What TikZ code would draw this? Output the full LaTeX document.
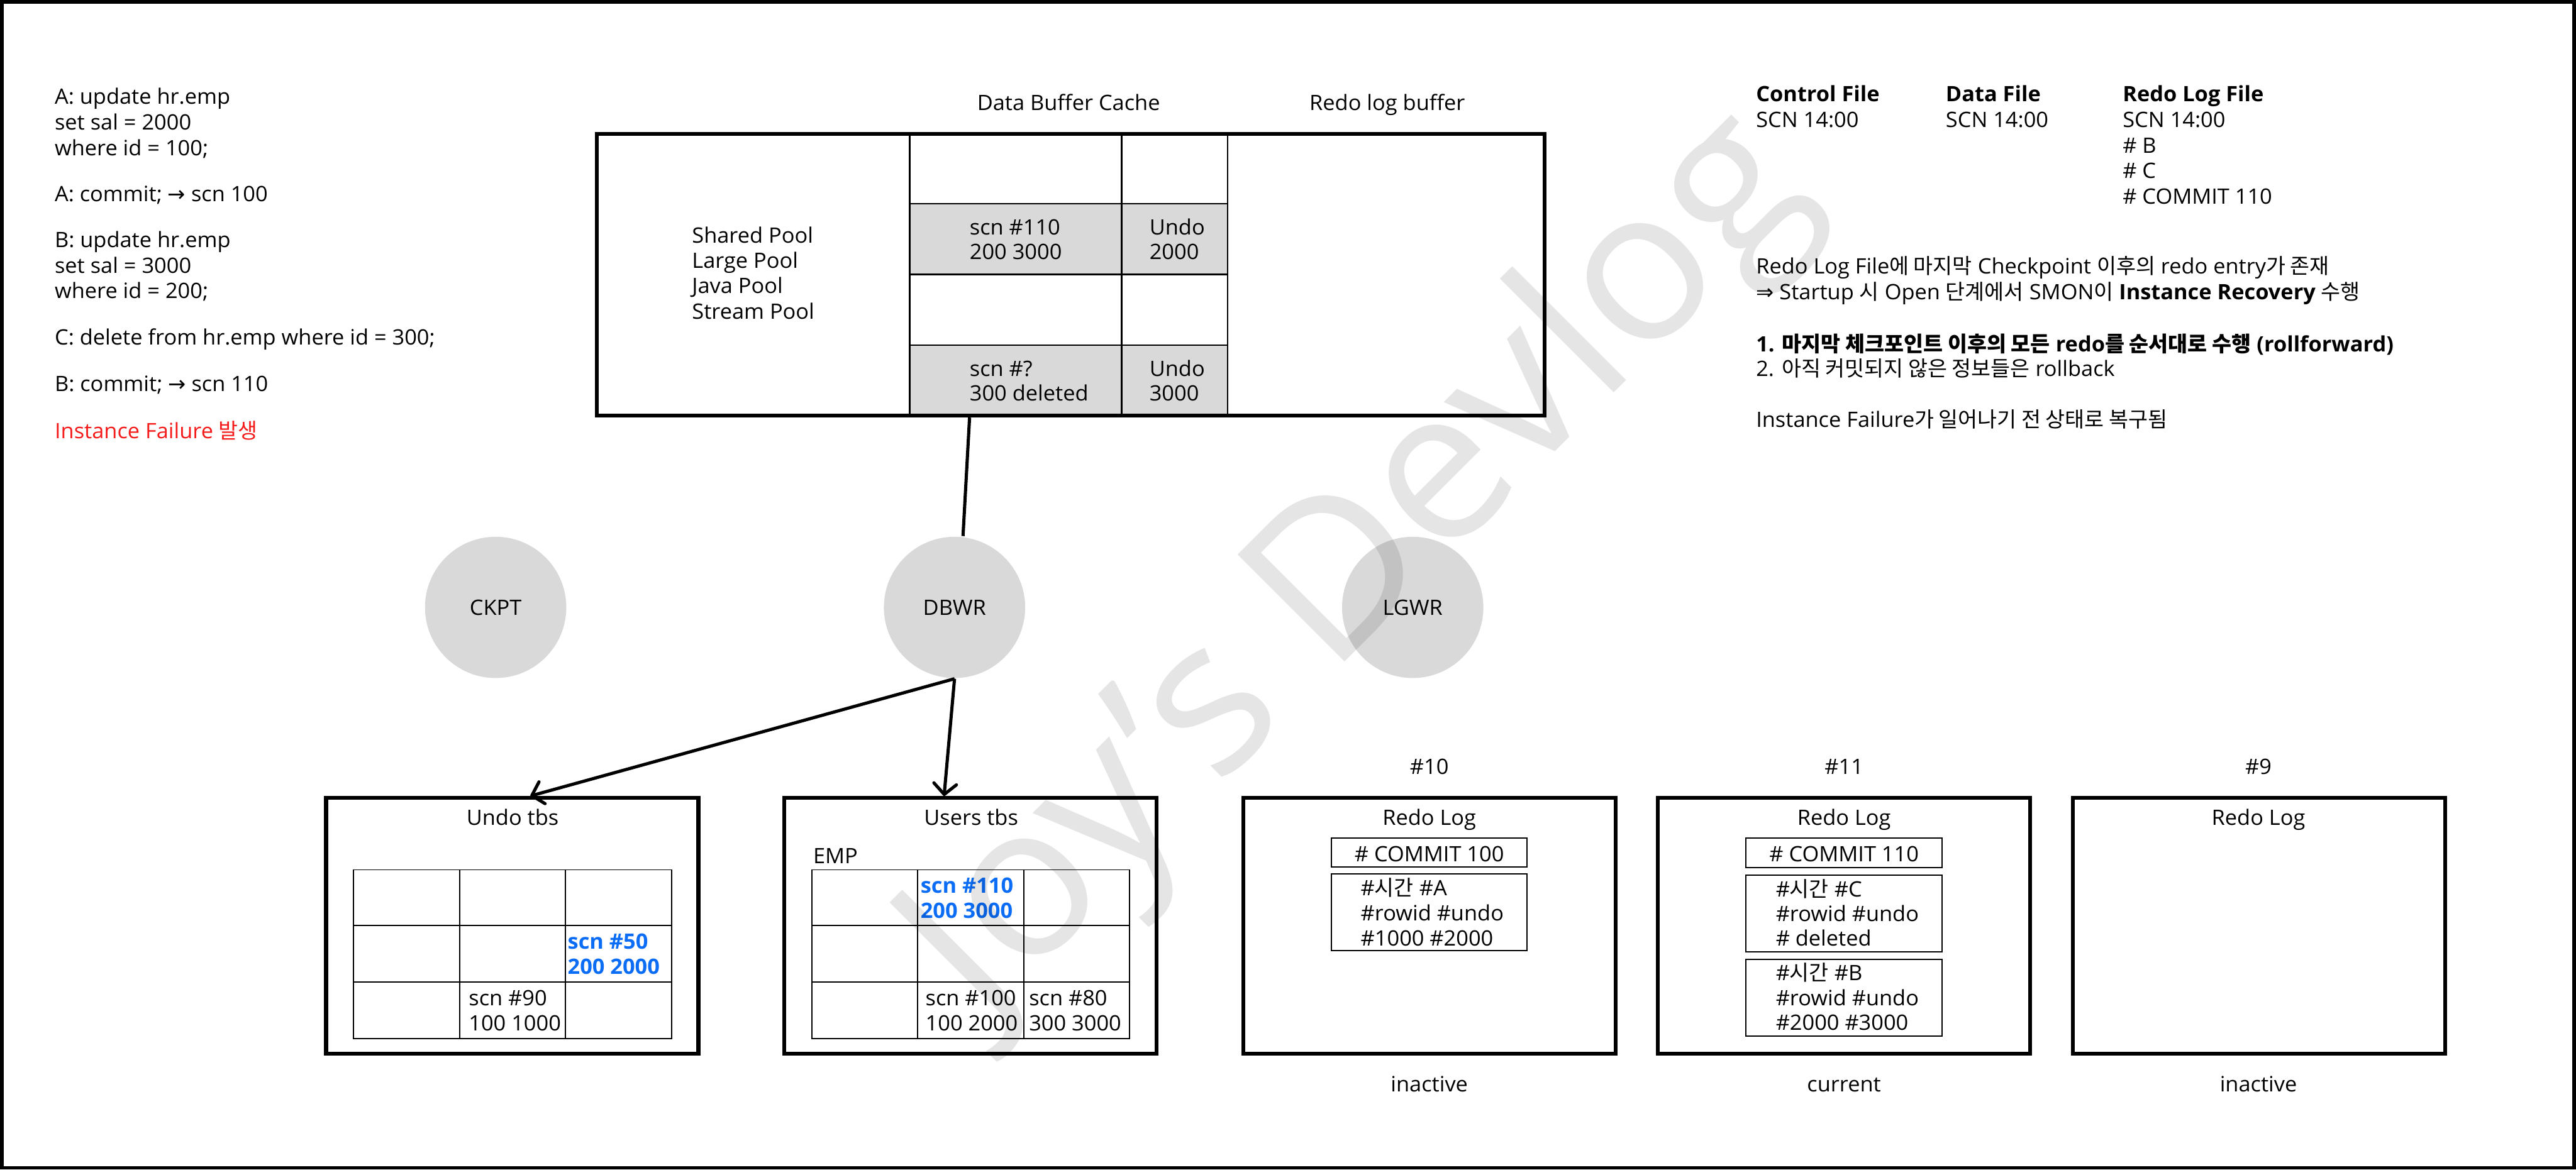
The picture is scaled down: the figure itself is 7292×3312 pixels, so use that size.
\documentclass[tikz,border=0pt]{standalone}
\usepackage{fontspec}
\setmainfont{Open Sans}[FakeStretch=1.02]
\newfontfamily\kr{Noto Sans CJK KR}
\newfontfamily\sym{DejaVu Sans}
\usetikzlibrary{arrows.meta,calc}
\definecolor{cellgray}{HTML}{D9D9D9}
\definecolor{hlblue}{HTML}{0B6CF5}
\definecolor{failred}{HTML}{F51B1B}
\begin{document}
\begin{tikzpicture}[x=0.1pt,y=-0.1pt,
  txt/.style={inner sep=0pt, font=\fontsize{6}{7.2}\selectfont},
  lt/.style={txt, anchor=base west},
  ct/.style={txt, anchor=base},
  bigbox/.style={draw=black, line width=1.1pt, rectangle, inner sep=0pt},
  tbox/.style={bigbox, minimum width=105.4pt, minimum height=72.4pt},
  thinl/.style={draw=black, line width=0.35pt},
  midl/.style={draw=black, line width=0.4pt},
  proc/.style={circle, fill=cellgray, minimum size=40pt, inner sep=0pt, font=\fontsize{6}{7.2}\selectfont},
  conn/.style={draw=black, line width=0.9pt},
  arr/.style={conn, -{Straight Barb[length=3pt,width=6.4pt,round]}},
  bt/.style={lt, font=\fontsize{6}{7.2}\selectfont\bfseries},
  hl/.style={bt, text=hlblue}
]
\useasboundingbox (0,0) rectangle (7292,3312);
\fill[white] (0,0) rectangle (7292,3312);
\draw[line width=1pt] (5,5) rectangle (7287,3307);

% ---------- left statements ----------
\node[lt] (l1) at (153,295) {A: update hr.emp};
\node[lt] (l2) at (153,368) {set sal = 2000};
\node[lt] (l3) at (153,441) {where id = 100;};
\node[lt] (l4) at (153,571) {A: commit; {\sym →} scn 100};
\node[lt] (l5) at (153,701) {B: update hr.emp};
\node[lt] (l6) at (153,774) {set sal = 3000};
\node[lt] (l7) at (153,845) {where id = 200;};
\node[lt] (l8) at (153,976) {C: delete from hr.emp where id = 300;};
\node[lt] (l9) at (153,1108) {B: commit; {\sym →} scn 110};
\node[lt, text=failred] (l10) at (153,1242) {Instance Failure {\kr 발생}};

% ---------- SGA ----------
\node[ct] (hdbc) at (3025,312) {Data Buffer Cache};
\node[ct] (hrlb) at (3927,312) {Redo log buffer};
\fill[cellgray] (2575,577) rectangle (3475,777);
\fill[cellgray] (2575,977) rectangle (3475,1177);
\draw[midl] (2575,379) -- (2575,1177) (3175,379) -- (3175,1177) (3475,379) -- (3475,1177);
\draw[midl] (2575,577) -- (3475,577) (2575,777) -- (3475,777) (2575,977) -- (3475,977);
\node[bigbox, minimum width=268.4pt, minimum height=79.8pt] (sga) at (3031,778) {};
\node[lt] (p1) at (1957,688) {Shared Pool};
\node[lt] (p2) at (1957,759) {Large Pool};
\node[lt] (p3) at (1957,831) {Java Pool};
\node[lt] (p4) at (1957,903) {Stream Pool};
\node[lt] (b1) at (2743,665) {scn \#110};
\node[lt] (b2) at (2743,735) {200 3000};
\node[lt] (u1) at (3252,665) {Undo};
\node[lt] (u2) at (3252,735) {2000};
\node[lt] (b3) at (2743,1065) {scn \#?};
\node[lt] (b4) at (2743,1135) {300 deleted};
\node[lt] (u3) at (3252,1065) {Undo};
\node[lt] (u4) at (3252,1135) {3000};

% ---------- right panel ----------
\node[bt] (cf) at (4969,288) {Control File};
\node[lt] (cf1) at (4969,360) {SCN 14:00};
\node[bt] (df) at (5506,288) {Data File};
\node[lt] (df1) at (5506,360) {SCN 14:00};
\node[bt] (rf) at (6007,288) {Redo Log File};
\node[lt] (rf1) at (6007,360) {SCN 14:00};
\node[lt] (rf2) at (6007,433) {\# B};
\node[lt] (rf3) at (6007,505) {\# C};
\node[lt] (rf4) at (6007,577) {\# COMMIT 110};
\node[lt] (r1) at (4969,776) {Redo Log File{\kr 에 마지막} Checkpoint {\kr 이후의} redo entry{\kr 가 존재}};
\node[lt] (r2) at (4969,849) {{\sym ⇒} Startup {\kr 시} Open {\kr 단계에서} SMON{\kr 이} \textbf{Instance Recovery} {\kr 수행}};
\node[bt] (r3) at (4969,996) {1. {\kr 마지막 체크포인트 이후의 모든} redo{\kr 를 순서대로 수행} (rollforward)};
\node[lt] (r4) at (4969,1066) {2. {\kr 아직 커밋되지 않은 정보들은} rollback};
\node[lt] (r5) at (4969,1210) {Instance Failure{\kr 가 일어나기 전 상태로 복구됨}};

% ---------- processes ----------
\node[proc] (ckpt) at (1403,1720) {CKPT};
\node[proc] (dbwr) at (2702,1720) {DBWR};
\node[proc] (lgwr) at (3999,1720) {LGWR};

% ---------- tablespaces ----------
\node[tbox] (undo) at (1450,2621.5) {};
\node[tbox] (users) at (2747,2621.5) {};
\node[ct] (undot) at (1451,2336) {Undo tbs};
\node[ct] (userst) at (2749,2336) {Users tbs};
\node[lt] (emp) at (2300,2446) {EMP};

\draw[thinl] (1001,2463) rectangle (1902,2941);
\draw[thinl] (1301,2463) -- (1301,2941) (1601,2463) -- (1601,2941)
  (1001,2621) -- (1902,2621) (1001,2781) -- (1902,2781);
\node[hl] (ug1) at (1605,2688) {scn \#50};
\node[hl] (ug2) at (1605,2758) {200 2000};
\node[lt] (ug3) at (1325,2847) {scn \#90};
\node[lt] (ug4) at (1325,2919) {100 1000};

\draw[thinl] (2298,2463) rectangle (3198,2941);
\draw[thinl] (2598,2463) -- (2598,2941) (2898,2463) -- (2898,2941)
  (2298,2621) -- (3198,2621) (2298,2781) -- (3198,2781);
\node[hl] (eg1) at (2604,2529) {scn \#110};
\node[hl] (eg2) at (2604,2600) {200 3000};
\node[lt] (eg3) at (2618,2847) {scn \#100};
\node[lt] (eg4) at (2618,2919) {100 2000};
\node[lt] (eg5) at (2911,2847) {scn \#80};
\node[lt] (eg6) at (2911,2919) {300 3000};

% ---------- redo log groups ----------
\node[tbox] (g10) at (4046,2621.5) {};
\node[tbox] (g11) at (5220,2621.5) {};
\node[tbox] (g9) at (6395,2621.5) {};
\node[ct] (n10) at (4046,2192) {\#10};
\node[ct] (n11) at (5220,2192) {\#11};
\node[ct] (n9) at (6393,2192) {\#9};
\node[ct] (rl10) at (4046,2336) {Redo Log};
\node[ct] (rl11) at (5220,2336) {Redo Log};
\node[ct] (rl9) at (6393,2336) {Redo Log};
\node[ct] (s10) at (4046,3091) {inactive};
\node[ct] (s11) at (5220,3091) {current};
\node[ct] (s9) at (6393,3091) {inactive};

\draw[thinl] (3768,2373) rectangle (4323,2455);
\draw[thinl] (3768,2475) rectangle (4323,2691);
\node[ct] (c10) at (4046,2439) {\# COMMIT 100};
\node[lt] (e1) at (3850,2536) {\#{\kr 시간} \#A};
\node[lt] (e2) at (3850,2607) {\#rowid \#undo};
\node[lt] (e3) at (3850,2679) {\#1000 \#2000};

\draw[thinl] (4942,2373) rectangle (5497,2457);
\draw[thinl] (4942,2478) rectangle (5497,2696);
\draw[thinl] (4942,2716) rectangle (5497,2934);
\node[ct] (c11) at (5220,2440) {\# COMMIT 110};
\node[lt] (f1) at (5025,2539) {\#{\kr 시간} \#C};
\node[lt] (f2) at (5025,2609) {\#rowid \#undo};
\node[lt] (f3) at (5025,2679) {\# deleted};
\node[lt] (f4) at (5025,2777) {\#{\kr 시간} \#B};
\node[lt] (f5) at (5025,2847) {\#rowid \#undo};
\node[lt] (f6) at (5025,2917) {\#2000 \#3000};

% ---------- connectors ----------
\draw[conn] ($(sga.south west)+(1061,0)$) -- ($(dbwr.north)+(24,0)$);
\draw[arr] (dbwr.south) -- ($(undo.north west)!0.548!(undo.north east)$);
\draw[arr] (dbwr.south) -- ($(users.north west)!0.43!(users.north east)$);

% ---------- watermark ----------
\node[rotate=45, anchor=base, inner sep=0pt, font=\fontsize{60}{60}\selectfont, text=black, text opacity=0.1] (wm) at (3960,1720) {Joy’s Devlog};
\end{tikzpicture}
\end{document}
